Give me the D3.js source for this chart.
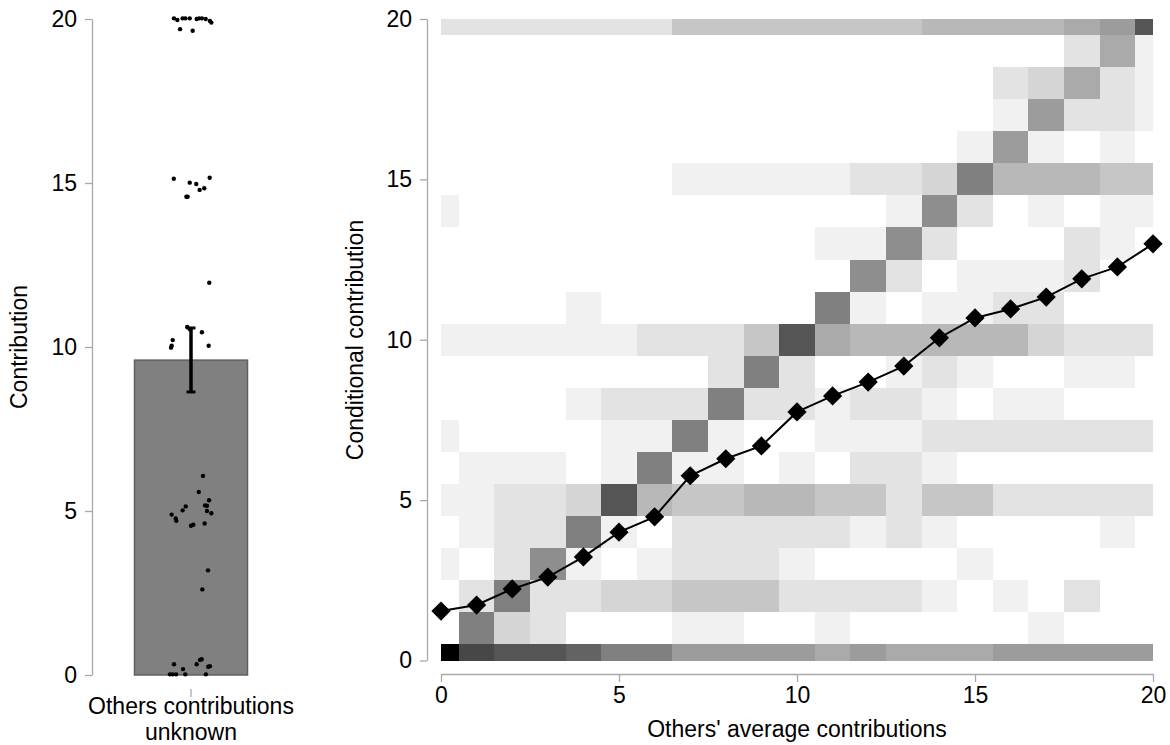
<!DOCTYPE html>
<html><head><meta charset="utf-8">
<script src="https://cdn.jsdelivr.net/npm/d3@7"></script>
<style>
body{margin:0;background:#fff;}
svg{display:block;}
text{font-family:"Liberation Sans",Arial,Helvetica,sans-serif;}
</style>
</head><body>
<svg id="chart" width="1170" height="745"></svg>
<script>
// ---------------- DATA ----------------
const barCategory = ["Others contributions unknown"];
const barMean = [9.6];
const barCILow = [8.63];
const barCIHigh = [10.58];

// individual contributions (jittered dots) and their horizontal jitter (-1..1)
const pointValues = [
  20.02,19.97,20.02,20.02,20.02,20.0,20.02,20.02,20.0,19.94,19.89,19.69,19.64,
  15.13,15.01,14.97,14.79,14.84,15.16,14.58,14.58,
  11.96,
  10.61,10.54,10.45,
  10.21,9.98,10.04,10.04,
  6.07,5.58,5.33,5.17,5.16,5.14,5.02,5.0,4.93,4.89,4.77,4.70,4.55,4.58,4.62,
  3.19,2.61,
  0.33,0.18,0.33,0.46,0.48,0.25,0.27,0.02,0.02,0.02,0.02,0.02
];
const pointJitter = [
  -0.81,-0.65,-0.40,-0.27,-0.06,0.27,0.38,0.52,0.70,0.90,0.97,-0.52,0.08,
  -0.82,-0.06,0.25,0.41,0.63,0.89,-0.22,-0.16,
  0.87,
  -0.18,-0.05,0.52,
  -0.87,-0.95,-0.92,0.84,
  0.57,0.37,0.86,0.67,0.76,-0.25,-0.40,0.76,0.97,-0.92,-0.73,-0.70,0.00,0.11,0.65,
  0.81,0.54,
  -0.81,-0.38,0.27,0.43,0.51,0.82,0.90,-1.00,-0.87,-0.71,-0.27,0.71
];

// heatmap: others' average contribution (columns) x conditional contribution (rows, top = 20)
const othersAvg = d3.range(0, 21);
const condRows = d3.range(20, -1, -1);
const heatLevels = [
  [2,2,2,2,2,2,2,4,4,4,4,4,4,4,5,5,5,5,6,7,12],
  [0,0,0,0,0,0,0,0,0,0,0,0,0,0,0,0,0,0,2,6,1],
  [0,0,0,0,0,0,0,0,0,0,0,0,0,0,0,0,2,3,6,2,1],
  [0,0,0,0,0,0,0,0,0,0,0,0,0,0,0,0,1,7,2,2,1],
  [0,0,0,0,0,0,0,0,0,0,0,0,0,0,0,1,7,1,0,1,0],
  [0,0,0,0,0,0,0,1,1,1,1,1,2,2,3,9,5,5,5,4,4],
  [1,0,0,0,0,0,0,0,0,0,0,0,0,1,8,2,0,1,0,1,1],
  [0,0,0,0,0,0,0,0,0,0,0,1,1,8,2,0,0,0,2,1,0],
  [0,0,0,0,0,0,0,0,0,0,0,0,8,2,0,1,1,1,2,0,0],
  [0,0,0,0,1,0,0,0,0,0,0,9,1,0,1,1,2,2,0,0,0],
  [1,1,1,1,1,1,2,2,2,4,12,6,5,5,5,5,5,3,2,2,2],
  [0,0,0,0,0,0,0,0,2,9,2,0,0,1,2,1,0,0,1,1,0],
  [0,0,0,0,1,2,2,2,9,2,2,1,2,2,1,0,1,1,0,0,0],
  [1,0,0,0,0,1,1,9,1,0,0,1,1,1,2,2,2,2,2,2,2],
  [0,1,1,1,0,1,9,1,1,0,1,0,2,2,1,0,0,0,0,0,0],
  [1,1,2,2,3,12,5,4,4,5,5,4,4,2,4,4,2,2,2,2,2],
  [0,1,2,2,9,1,0,2,2,2,2,2,1,2,1,0,0,0,0,1,0],
  [1,0,2,8,1,0,1,2,2,2,1,0,0,0,0,1,0,0,0,0,0],
  [0,2,9,2,2,3,3,4,4,4,2,2,2,2,1,0,1,0,2,0,0],
  [0,9,3,2,0,0,0,1,1,0,0,1,0,0,0,0,0,1,0,0,0],
  [18,13,12,12,11,9,9,7,7,7,7,6,7,6,6,6,7,7,7,7,7]
];
const meanConditional = [1.54,1.73,2.23,2.60,3.23,4.00,4.48,5.76,6.29,6.69,7.75,
                         8.25,8.68,9.18,10.06,10.68,10.96,11.33,11.90,12.27,12.99];
const tickVals = [0, 5, 10, 15, 20];

// ---------------- DRAW ----------------
const svg = d3.select("#chart");
const axisColor = "#a9a9a9";
const fontSize = "23px";

function styleAxis(g) {
  g.select(".domain").attr("stroke", axisColor).attr("stroke-width", 1.3);
  g.selectAll(".tick line").attr("stroke", axisColor).attr("stroke-width", 1.3);
  g.selectAll(".tick text").attr("fill", "#000").style("font-size", fontSize)
    .style("font-family", '"Liberation Sans",Arial,sans-serif');
}

// ----- Left panel -----
const xL = d3.scaleBand().domain(barCategory).range([134.5, 247.5]).padding(0);
const yL = d3.scaleLinear().domain([0, 20]).range([675, 19]);
const jitterScale = d3.scaleLinear().domain([-1, 1]).range([-21, 21]);
const cx = xL(barCategory[0]) + xL.bandwidth() / 2;

svg.append("g").attr("transform", "translate(92,0)")
  .call(d3.axisLeft(yL).tickValues(tickVals).tickSize(7).tickSizeOuter(0).tickPadding(8))
  .call(styleAxis);

svg.append("g").selectAll("rect").data(barMean).join("rect")
  .attr("x", xL(barCategory[0])).attr("width", xL.bandwidth())
  .attr("y", d => yL(d)).attr("height", d => yL(0) - yL(d))
  .attr("fill", "#808080").attr("stroke", "#606060").attr("stroke-width", 1.5);

svg.append("g").selectAll("circle").data(pointValues).join("circle")
  .attr("cx", (d, i) => cx + jitterScale(pointJitter[i]))
  .attr("cy", d => yL(d)).attr("r", 2.2).attr("fill", "#000");

const eb = svg.append("g");
eb.append("line").attr("x1", cx).attr("x2", cx)
  .attr("y1", yL(barCILow[0])).attr("y2", yL(barCIHigh[0]))
  .attr("stroke", "#000").attr("stroke-width", 3.5);
[barCILow[0], barCIHigh[0]].forEach(v => {
  eb.append("line").attr("x1", cx - 4.5).attr("x2", cx + 4.5)
    .attr("y1", yL(v)).attr("y2", yL(v)).attr("stroke", "#000").attr("stroke-width", 3);
});

const gxL = svg.append("g").attr("transform", "translate(0,689)")
  .call(d3.axisBottom(xL).tickSize(8).tickSizeOuter(0));
gxL.select(".domain").remove();
gxL.selectAll(".tick line").attr("stroke", axisColor).attr("stroke-width", 1.3);
gxL.selectAll(".tick text").remove();
svg.append("text").attr("x", cx).attr("y", 714).attr("text-anchor", "middle")
  .style("font-size", fontSize).attr("fill", "#000").text("Others contributions");
svg.append("text").attr("x", cx).attr("y", 740).attr("text-anchor", "middle")
  .style("font-size", fontSize).attr("fill", "#000").text("unknown");

svg.append("text").attr("transform", "translate(27,347) rotate(-90)")
  .attr("text-anchor", "middle").style("font-size", fontSize).text("Contribution");

// ----- Right panel -----
const xR = d3.scaleLinear().domain([0, 20]).range([441, 1153]);
const yR = d3.scaleLinear().domain([0, 20]).range([660.5, 19]);
const gray = d3.scaleLinear().domain([0, 18]).range(["#ffffff", "#000000"]).clamp(true);

const cells = [];
condRows.forEach((cy, i) => othersAvg.forEach((ox, j) => {
  cells.push({x: ox, y: cy, v: heatLevels[i][j]});
}));
svg.append("g").attr("shape-rendering", "crispEdges")
  .selectAll("rect").data(cells).join("rect")
  .attr("x", d => xR(Math.max(0, d.x - 0.5)))
  .attr("width", d => xR(Math.min(20, d.x + 0.5)) - xR(Math.max(0, d.x - 0.5)))
  .attr("y", d => yR(Math.min(20, d.y + 0.5)))
  .attr("height", d => yR(Math.max(0, d.y - 0.5)) - yR(Math.min(20, d.y + 0.5)))
  .attr("fill", d => gray(d.v));

svg.append("g").attr("transform", "translate(0,674)")
  .call(d3.axisBottom(xR).tickValues(tickVals).tickSize(8).tickSizeOuter(0).tickPadding(5))
  .call(styleAxis);
svg.append("g").attr("transform", "translate(427,0)")
  .call(d3.axisLeft(yR).tickValues(tickVals).tickSize(7).tickSizeOuter(0).tickPadding(8))
  .call(styleAxis);

const line = d3.line().x((d, i) => xR(othersAvg[i])).y(d => yR(d));
svg.append("path").datum(meanConditional).attr("d", line)
  .attr("fill", "none").attr("stroke", "#000").attr("stroke-width", 2);
svg.append("g").selectAll("path").data(meanConditional).join("path")
  .attr("d", d3.symbol(d3.symbolSquare, 185))
  .attr("transform", (d, i) => `translate(${xR(othersAvg[i])},${yR(d)}) rotate(45)`)
  .attr("fill", "#000");

svg.append("text").attr("x", 797).attr("y", 737).attr("text-anchor", "middle")
  .style("font-size", fontSize).text("Others' average contributions");
svg.append("text").attr("transform", "translate(363,340) rotate(-90)")
  .attr("text-anchor", "middle").style("font-size", fontSize).text("Conditional contribution");
</script>
</body></html>
